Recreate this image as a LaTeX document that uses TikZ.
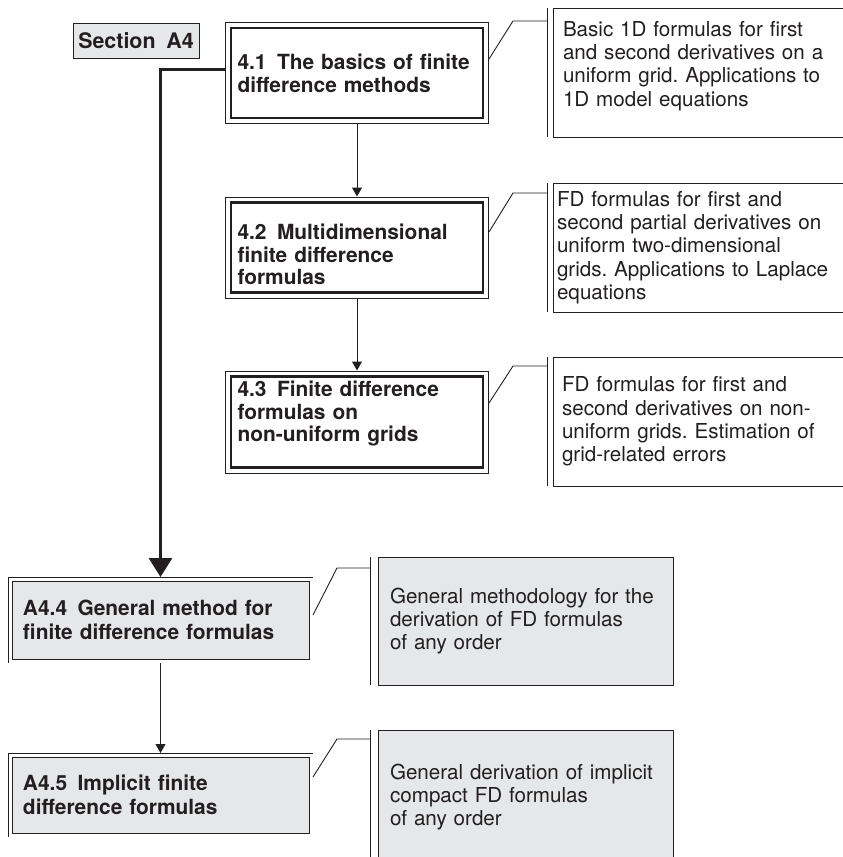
\documentclass[tikz,border=0pt]{standalone}
\usepackage{fontspec}
\setmainfont{TeX Gyre Heros}
\usetikzlibrary{arrows.meta}
\frenchspacing

\definecolor{ink}{RGB}{35,31,32}
\definecolor{boxgray}{RGB}{230,231,232}

\begin{document}
\begin{tikzpicture}[x=1pt,y=1pt,color=ink,
every node/.style={inner sep=0pt,outer sep=0pt,align=left},
main box/.style={draw,fill=white,line width=2.6pt,
  preaction={draw,line width=12pt},
  preaction={draw=white,line width=10pt},
  minimum width=252pt,minimum height=90pt,text width=239pt,
  font=\fontsize{20.9}{22.7}\selectfont\bfseries},
sub box/.style={draw,fill=boxgray,line width=0.9pt,
  preaction={draw,line width=8.8pt},
  preaction={draw=white,line width=7pt},
  minimum width=297pt,text width=275pt,
  font=\fontsize{20.9}{24.5}\selectfont\bfseries},
note/.style={draw,line width=0.9pt,minimum width=295pt,
  font=\fontsize{20.6}{23.3}\selectfont},
link/.style={line width=0.9pt},
flow/.style={line width=1pt,-{Triangle[width=10pt,length=9pt]}},
main flow/.style={line width=3pt,-{Triangle[width=23pt,length=19pt]}}]
\useasboundingbox (0,0) rectangle (843,-857);

% section chain
\node[draw,fill=boxgray,line width=0.9pt,minimum width=126pt,minimum height=35pt,
  font=\fontsize{21.4}{24}\selectfont\bfseries] (sec) at (136,-40.5) {Section\enskip A4};
\node[main box] (a) at (357,-73) {4.1\enskip The basics of finite\\difference methods};
\node[main box] (b) at (357,-247.5) {\rule{0pt}{29.5pt}4.2\enskip Multidimensional\\finite difference\\formulas};
\node[main box,minimum height=91pt] (c) at (357,-422) {4.3\enskip Finite difference\\formulas on\\non-uniform grids\rule[-21.5pt]{0pt}{0pt}};
\node[sub box,minimum height=78pt] (d) at (160.5,-620) {A4.4\enskip General method for\\finite difference formulas};
\node[sub box,minimum height=76pt] (e) at (160.5,-795) {A4.5\enskip Implicit finite\\difference formulas};

% notes on the right
\node[note,minimum height=129pt,text width=275pt] (d1) at (700.5,-72.5)
  {Basic 1D formulas for first\\and second derivatives on a\\uniform grid. Applications to\\1D model equations\rule[-17.6pt]{0pt}{0pt}};
\node[note,minimum height=129pt,text width=287pt] (d2) at (700.5,-247.5)
  {FD formulas for first and\\second partial derivatives on\\uniform two-dimensional\\grids. Applications to Laplace\\equations};
\node[note,minimum height=129pt,text width=277pt] (d3) at (700.5,-421.5)
  {FD formulas for first and\\second derivatives on non-\\uniform grids. Estimation of\\grid-related errors};
\node[note,fill=boxgray,minimum height=128pt,text width=271pt] (d4) at (525.5,-621)
  {General methodology for the\\derivation of FD formulas\\of any order};
\node[note,fill=boxgray,minimum height=134pt,text width=271pt] (d5) at (525.5,-797)
  {General derivation of implicit\\compact FD formulas\\of any order};

\draw[flow] ([yshift=-6pt]a.south) -- ([yshift=6pt]b.north);
\draw[flow] ([yshift=-6pt]b.south) -- ([yshift=6pt]c.north);
\draw[main flow] ([xshift=-6pt,yshift=4pt]a.west) -| ([yshift=4pt]d.north);
\draw[flow] ([yshift=-4pt]d.south) -- ([yshift=4pt]e.north);

\draw[link] ([xshift=6pt,yshift=14pt]a.east) -- ([xshift=-40pt,yshift=-13pt]d1.north west) -- ([xshift=-6pt,yshift=-13pt]d1.north west);
\draw[link] ([xshift=-6pt]d1.north west) -- ([xshift=-6pt]d1.south west);
\draw[link] ([xshift=6pt,yshift=15.5pt]b.east) -- ([xshift=-40pt,yshift=-10pt]d2.north west) -- ([xshift=-6pt,yshift=-10pt]d2.north west);
\draw[link] ([xshift=-6pt]d2.north west) -- ([xshift=-6pt]d2.south west);
\draw[link] ([xshift=6pt,yshift=19pt]c.east) -- ([xshift=-40pt,yshift=-9pt]d3.north west) -- ([xshift=-6pt,yshift=-9pt]d3.north west);
\draw[link] ([xshift=-6pt]d3.north west) -- ([xshift=-6pt]d3.south west);
\draw[link] ([xshift=4pt,yshift=5pt]d.east) -- ([xshift=-41pt,yshift=-11pt]d4.north west) -- ([xshift=-8pt,yshift=-11pt]d4.north west);
\draw[link] ([xshift=-8pt]d4.north west) -- ([xshift=-8pt]d4.south west);
\draw[link] ([xshift=4pt,yshift=18pt]e.east) -- ([xshift=-41pt,yshift=-9pt]d5.north west) -- ([xshift=-8pt,yshift=-9pt]d5.north west);
\draw[link] ([xshift=-8pt]d5.north west) -- ([xshift=-8pt]d5.south west);
\end{tikzpicture}
\end{document}
